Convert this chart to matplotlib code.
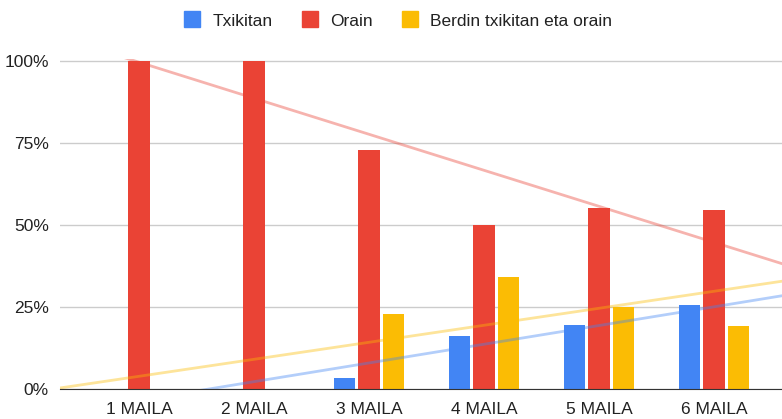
import numpy as np
import matplotlib
matplotlib.use("Agg")
import matplotlib.pyplot as plt
from matplotlib.lines import Line2D
from matplotlib.ticker import PercentFormatter

plt.rcParams['font.family'] = ['Liberation Sans', 'DejaVu Sans']

categories = ["1 MAILA", "2 MAILA", "3 MAILA", "4 MAILA", "5 MAILA", "6 MAILA"]
series_names = ["Txikitan", "Orain", "Berdin txikitan eta orain"]
txikitan = [0.0, 0.0, 3.5, 16.0, 19.5, 25.7]
orain = [100.0, 100.0, 72.7, 50.0, 55.2, 54.6]
berdin = [0.0, 0.0, 22.9, 34.0, 24.9, 19.1]
colors = ["#4285F4", "#EA4335", "#FBBC04"]

W, H = 782, 419
fig = plt.figure(figsize=(W / 100, H / 100), dpi=100)
ax = fig.add_axes([60 / W, 30 / H, 1 - 60 / W, 330 / H])

ind = np.arange(len(categories))
width = 0.187
offset = 0.213
xmin, xmax = -0.687, 5.59

for i, (vals, col) in enumerate(zip([txikitan, orain, berdin], colors)):
    ax.bar(ind + (i - 1) * offset, vals, width, color=col, zorder=3)

# linear trendlines over the full axis width
xs = np.array([xmin, xmax])
for vals, col in zip([txikitan, orain, berdin], colors):
    slope, icpt = np.polyfit(ind, vals, 1)
    ax.plot(xs, slope * xs + icpt, color=col, alpha=0.4, lw=2, zorder=4)

ax.set_xlim(xmin, xmax)
ax.set_ylim(0, 100.5)
ax.set_yticks([0, 25, 50, 75, 100])
ax.yaxis.set_major_formatter(PercentFormatter(decimals=0))
ax.set_xticks(ind)
ax.set_xticklabels(categories)
ax.tick_params(axis="both", length=0, labelsize=12.5, colors="#222222")
ax.tick_params(axis="y", pad=8)
ax.tick_params(axis="x", pad=9)
ax.grid(True, axis="y", color="#cccccc", lw=1, zorder=0)
ax.set_axisbelow(True)
for s in ["top", "right", "left"]:
    ax.spines[s].set_visible(False)
ax.spines["bottom"].set_color("#333333")
ax.spines["bottom"].set_zorder(5)

handles = [Line2D([], [], marker="s", ls="none", markersize=11.5, color=c) for c in colors]
fig.legend(handles, series_names, loc="center", bbox_to_anchor=(398 / W, 1 - 21 / H),
           ncol=3, frameon=False, fontsize=12.5, labelcolor="#222222",
           handlelength=1.0, handletextpad=0.7, columnspacing=1.6)

fig.savefig("out.png", dpi=100)
